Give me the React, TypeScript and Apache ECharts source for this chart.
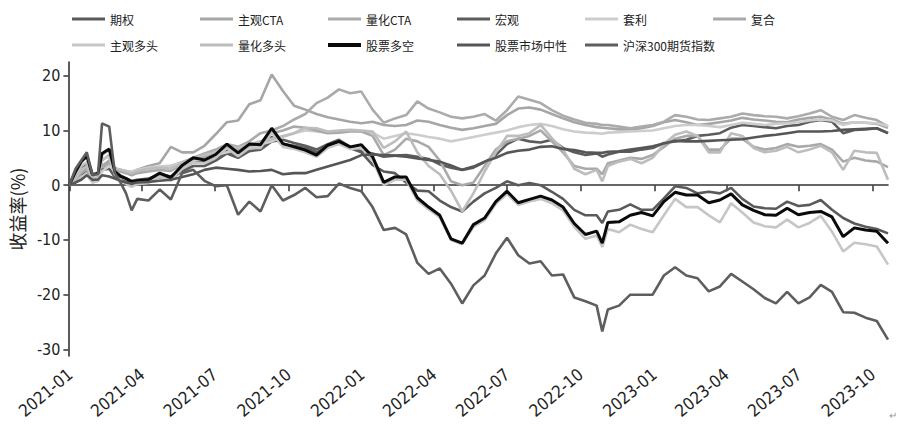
import React, { useEffect, useRef } from "react";
import * as echarts from "echarts";

const dates = [
  "2020-12-31", "2021-01-08", "2021-01-15", "2021-01-22", "2021-01-29", "2021-02-05", "2021-02-10", "2021-02-19", "2021-02-26", "2021-03-05", "2021-03-12", "2021-03-19", "2021-03-26",
  "2021-04-09", "2021-04-23", "2021-05-07", "2021-05-21", "2021-06-04", "2021-06-18", "2021-07-02", "2021-07-16", "2021-07-30", "2021-08-13", "2021-08-27", "2021-09-10", "2021-09-24", "2021-10-08", "2021-10-22", "2021-11-05", "2021-11-19", "2021-12-03", "2021-12-17", "2021-12-31",
  "2022-01-14", "2022-01-28", "2022-02-11", "2022-02-25", "2022-03-11", "2022-03-25", "2022-04-08", "2022-04-22", "2022-05-06", "2022-05-20", "2022-06-03", "2022-06-17", "2022-07-01", "2022-07-15", "2022-07-29", "2022-08-12", "2022-08-26", "2022-09-09", "2022-09-23", "2022-10-07", "2022-10-21",
  "2022-10-28",
  "2022-11-04", "2022-11-18", "2022-12-02", "2022-12-16", "2022-12-30", "2023-01-13", "2023-01-27", "2023-02-10", "2023-02-24", "2023-03-10", "2023-03-24", "2023-04-07", "2023-04-21", "2023-05-05", "2023-05-19", "2023-06-02", "2023-06-16", "2023-06-30", "2023-07-14", "2023-07-28", "2023-08-11", "2023-08-25", "2023-09-08", "2023-09-22", "2023-10-06", "2023-10-20",
];

const xTickDates = ["2021-01-01", "2021-04-01", "2021-07-01", "2021-10-01", "2022-01-01", "2022-04-01", "2022-07-01", "2022-10-01", "2023-01-01", "2023-04-01", "2023-07-01", "2023-10-01"];
const yTicks = [-30, -20, -10, 0, 10, 20];

const qiquan = [
  0, 1.5, 3.0, 4.0, 1.5, 1.6, 3.5, 4.0, 2.5, 1.8, 1.3, 0.8, 1.0,
  1.2, 2.0, 1.6, 3.0, 4.2, 4.2, 5.0, 6.3, 5.4, 6.8, 6.8, 8.8, 7.5, 7.2, 6.8, 6.0, 7.0, 7.6, 6.8, 6.0,
  3.7, 2.5, 2.2, 0.5, -1.0, -1.1, -2.8, -4.0, -4.8, -3.0, -1.5, -0.5, 0.7, 0.0, 0.4, 0.0, -1.2, -2.5, -4.5, -5.5, -5.5,
  -6.9,
  -4.8, -4.5, -3.5, -4.5, -4.5, -2.4, -0.2, -0.5, -1.5, -1.2, -1.5, -0.5, -2.5, -3.9, -4.2, -4.3, -3.0, -3.8, -3.6, -2.7, -4.5, -6.0, -7.0, -7.6, -8.0, -8.8,
];

const zhuguanCTA = [
  0, 0.8, 2.0, 2.8, 0.8, 1.2, 3.5, 4.5, 3.0, 2.8, 2.6, 2.4, 2.8,
  3.5, 4.0, 7.0, 6.0, 6.0, 7.2, 9.3, 11.5, 11.8, 14.8, 15.5, 20.2, 17.2, 14.5, 13.8, 13.0, 12.4, 12.0, 11.6, 11.3,
  11.6, 11.0, 10.8, 11.0, 11.8, 11.6, 11.0, 10.5, 10.1, 10.4, 10.8, 11.2, 12.8, 14.0, 14.2, 13.8, 13.0, 12.2, 11.5, 11.0, 10.6,
  10.5,
  10.4, 10.2, 10.2, 10.4, 10.8, 11.5, 11.9, 11.5, 11.0, 11.2, 11.5, 11.8, 12.3, 12.0, 11.8, 11.6, 11.5, 12.0, 12.3, 12.5, 12.0, 11.2, 11.5, 11.4, 11.2, 10.5,
];

const lianghuaCTA = [
  0, 0.5, 1.5, 2.2, 0.5, 0.8, 3.0, 4.0, 2.8, 2.6, 2.3, 2.0, 2.5,
  3.0, 3.2, 3.5, 4.2, 5.0, 5.8, 6.5, 7.5, 7.0, 8.0, 9.5, 10.0, 10.8, 12.0, 13.0, 15.0, 16.0, 17.5, 16.8, 17.1,
  13.8, 11.4, 12.2, 12.8, 15.3, 14.0, 13.3, 12.5, 12.2, 12.5, 13.0, 11.8, 13.7, 16.2, 15.6, 15.0, 13.7, 12.7, 12.0, 11.4, 11.2,
  11.0,
  11.0, 10.7, 10.4, 10.7, 11.0, 11.6, 12.8, 12.5, 12.0, 11.9, 12.2, 12.5, 13.1, 12.8, 12.6, 12.5, 12.2, 12.6, 13.1, 13.7, 12.5, 11.9, 12.8, 12.3, 11.9, 10.7,
];

const hongguan = [
  0, 1.0, 2.0, 3.0, 1.0, 1.2, 2.8, 3.0, 1.5, 1.0, 0.6, 0.2, 0.5,
  0.8, 1.5, 1.2, 2.5, 3.5, 3.5, 4.5, 5.8, 5.0, 6.2, 6.5, 8.0, 8.3, 7.7, 7.2, 6.5, 7.5, 8.3, 7.0, 6.2,
  5.8, 5.2, 5.4, 5.5, 5.2, 4.8, 3.8, 3.2, 2.8, 3.2, 4.2, 5.5, 7.5, 8.5, 8.0, 7.8, 8.3, 6.8, 6.0, 5.5, 5.8,
  5.2,
  5.6, 6.1, 6.1, 6.5, 6.8, 7.7, 8.0, 8.3, 9.0, 9.2, 9.5, 10.5, 11.0, 10.8, 10.6, 10.4, 10.8, 11.0, 11.6, 11.9, 11.6, 9.5, 10.1, 10.2, 10.4, 9.5,
];

const taoli = [
  0, 0.8, 1.5, 2.0, 0.5, 0.8, 2.5, 3.5, 2.8, 2.8, 2.6, 2.5, 2.8,
  3.2, 3.4, 3.6, 4.0, 4.5, 5.0, 5.5, 6.0, 6.5, 7.0, 7.5, 8.0, 8.8, 9.5, 10.0, 9.8, 9.6, 9.8, 10.0, 9.8,
  9.6, 8.5, 9.0, 9.5, 9.2, 8.8, 8.5, 8.0, 8.4, 8.8, 9.2, 9.6, 10.0, 10.6, 11.0, 11.2, 10.8, 10.2, 9.8, 9.6, 9.5,
  9.4,
  9.6, 9.7, 9.8, 9.9, 10.0, 10.4, 10.8, 11.0, 11.0, 10.8, 10.6, 11.0, 11.4, 11.2, 11.0, 11.2, 11.3, 11.5, 11.8, 12.0, 11.8, 11.0, 11.5, 11.4, 11.3, 10.8,
];

const fuhe = [
  0, 1.0, 2.2, 3.0, 0.8, 1.3, 4.5, 5.5, 3.0, 2.5, 2.2, 1.8, 2.2,
  2.5, 2.8, 2.6, 3.8, 4.8, 5.2, 5.8, 6.8, 6.5, 7.2, 7.8, 9.5, 10.0, 10.7, 10.5, 10.0, 9.5, 9.6, 9.8, 9.8,
  9.0, 5.5, 6.5, 8.5, 8.0, 7.0, 4.5, 0.7, 0.0, 0.5, 3.5, 6.5, 8.0, 8.5, 9.0, 10.0, 8.0, 6.0, 3.5, 3.0, 3.0,
  2.0,
  4.0, 4.5, 5.0, 4.8, 5.5, 7.0, 8.5, 9.0, 9.0, 6.5, 6.5, 8.5, 8.5, 7.0, 6.5, 6.8, 7.5, 7.0, 7.2, 7.5, 6.5, 4.3, 5.0, 4.5, 4.3, 3.3,
];

const zhuguanDuotou = [
  0, 1.8, 3.5, 4.2, 1.2, 1.8, 4.8, 5.2, 2.0, 1.0, 0.2, -0.3, 0.2,
  0.4, 1.6, 0.8, 3.0, 4.2, 4.0, 5.0, 6.8, 5.3, 6.8, 6.8, 9.6, 7.0, 6.6, 6.0, 5.2, 6.8, 7.5, 6.6, 6.8,
  4.6, 0.0, 1.0, 1.0, -2.8, -4.4, -5.9, -10.0, -10.8, -7.6, -6.4, -3.4, -1.6, -3.6, -3.0, -2.5, -3.3, -4.6, -7.6, -9.8, -9.2,
  -11.3,
  -8.0, -8.6, -7.2, -8.0, -8.6, -5.5, -2.5, -4.0, -4.0, -5.5, -6.8, -3.3, -5.0, -6.8, -7.5, -7.7, -6.3, -7.7, -6.9, -5.6, -8.5, -12.1, -10.5, -10.8, -11.2, -14.5,
];

const lianghuaDuotou = [
  0, 1.2, 2.8, 3.5, 1.0, 1.5, 5.5, 6.5, 3.2, 2.8, 2.5, 2.2, 2.6,
  3.0, 3.2, 3.0, 4.0, 5.0, 5.5, 6.0, 7.0, 6.8, 7.5, 8.0, 8.5, 9.0, 9.5, 10.5, 10.4, 9.8, 10.0, 10.1, 10.0,
  9.8, 6.8, 8.0, 9.8, 6.0, 3.5, 2.0, -1.0, -4.8, -1.5, 2.5, 6.0, 9.0, 9.0, 9.5, 11.0, 8.6, 6.5, 3.0, 2.0, 2.8,
  0.7,
  3.5, 4.3, 4.8, 4.0, 5.0, 7.5, 9.2, 9.8, 9.0, 6.0, 6.0, 9.5, 9.0, 6.8, 6.0, 6.3, 7.0, 6.0, 6.5, 7.2, 6.0, 2.8, 6.3, 6.0, 5.9, 1.0,
];

const gupiaoDuokong = [
  0, 2.5, 4.3, 5.3, 1.9, 2.2, 5.8, 6.6, 2.5, 1.6, 1.2, 0.6, 0.8,
  1.0, 2.2, 1.4, 3.6, 5.0, 4.6, 5.6, 7.5, 5.9, 7.5, 7.4, 10.4, 7.6, 7.0, 6.4, 5.5, 7.3, 8.0, 7.0, 7.4,
  5.2, 0.5, 1.5, 1.5, -2.3, -4.0, -5.5, -9.8, -10.6, -7.2, -6.0, -3.0, -1.1, -3.2, -2.6, -2.0, -2.7, -4.0, -7.0, -9.0, -8.4,
  -10.6,
  -6.8, -6.7, -5.5, -5.0, -5.6, -3.0, -1.3, -1.8, -1.8, -3.2, -2.7, -1.6, -3.6, -4.6, -5.4, -5.5, -4.2, -5.4, -5.0, -4.8, -5.8, -9.4, -7.8, -8.2, -8.4, -10.6,
];

const shichangZhongxing = [
  0, 0.5, 1.0, 1.8, 1.0, 1.0, 1.8, 1.6, 1.2, 0.8, 0.5, 0.3, 0.5,
  0.6, 0.8, 1.0, 1.5, 2.0, 2.8, 3.2, 3.0, 2.8, 2.5, 2.6, 2.8, 2.0, 2.2, 2.2, 2.8, 3.4, 4.0, 4.6, 5.5,
  5.6, 5.5, 5.4, 5.2, 4.9, 4.6, 4.3, 3.6, 2.8, 3.4, 4.3, 5.0, 5.9, 6.3, 6.5, 7.0, 7.1, 6.6, 6.4, 6.0, 5.9,
  5.9,
  6.1, 6.2, 6.5, 6.8, 7.1, 7.6, 8.1, 8.0, 8.0, 8.1, 8.2, 8.3, 8.4, 8.7, 9.0, 9.2, 9.5, 9.8, 9.8, 9.8, 9.9, 10.1, 10.2, 10.3, 10.4, 9.5,
];

const hs300 = [
  0, 3.0, 4.5, 6.0, 1.9, 2.0, 11.3, 10.7, 2.2, 0.5, -1.5, -4.6, -2.5,
  -2.8, -0.8, -2.6, 2.2, 2.8, 0.8, -0.2, 0.0, -5.4, -3.0, -4.8, 0.0, -2.8, -1.8, -0.5, -2.2, -2.0, 0.3, -0.5, -1.1,
  -4.0, -8.2, -7.8, -9.0, -14.2, -16.2, -15.2, -18.0, -21.6, -18.3, -16.5, -12.5, -9.6, -12.8, -14.3, -13.9, -16.5, -16.3, -20.5, -21.2, -22.0,
  -26.7,
  -22.7, -22.0, -20.0, -20.0, -20.0, -16.5, -15.0, -16.5, -17.0, -19.4, -18.5, -16.2, -17.6, -19.0, -20.6, -21.6, -19.5, -21.6, -20.5, -18.2, -19.5, -23.2, -23.3, -24.2, -24.8, -28.2,
];

const seriesNames = ["期权", "主观CTA", "量化CTA", "宏观", "套利", "复合", "主观多头", "量化多头", "股票多空", "股票市场中性", "沪深300期货指数"];
const seriesValues = [qiquan, zhuguanCTA, lianghuaCTA, hongguan, taoli, fuhe, zhuguanDuotou, lianghuaDuotou, gupiaoDuokong, shichangZhongxing, hs300];
const seriesColors = ["#5a5a5a", "#a6a6a6", "#ababab", "#5c5c5c", "#cdcdcd", "#a9a9a9", "#c6c6c6", "#bdbdbd", "#0a0a0a", "#565656", "#5e5e5e"];

const toTs = (d: string) => new Date(d + "T00:00:00Z").getTime();

export default function App() {
  const ref = useRef<HTMLDivElement>(null);

  useEffect(() => {
    if (!ref.current) return;
    const chart = echarts.init(ref.current, null, { renderer: "svg" });
    const ts = dates.map(toTs);
    const tickTs = xTickDates.map(toTs);
    const colX = [72, 200, 328, 457, 585, 713];
    const rowY = [13, 39];
    const numFont = '"Liberation Sans Narrow", "DejaVu Sans Condensed", sans-serif';
    const cjkFont = '"Noto Sans CJK SC", sans-serif';

    const legends = seriesNames.map((n, i) => ({
      data: [n],
      left: colX[i % 6],
      top: rowY[Math.floor(i / 6)],
      icon: "rect",
      itemWidth: 33,
      itemHeight: i === 8 ? 4 : 3,
      padding: 0,
      selectedMode: false,
      textStyle: { fontSize: 12, color: "#222", fontFamily: cjkFont },
    }));

    const series = seriesNames.map((n, i) => ({
      name: n,
      type: "line",
      data: ts.map((t, j) => [t, seriesValues[i][j]]),
      showSymbol: false,
      symbol: "none",
      lineStyle: { width: i === 8 ? 3 : 2.6, color: seriesColors[i] },
      itemStyle: { color: seriesColors[i] },
      emphasis: { disabled: true },
      z: 2,
    }));

    chart.setOption({
      animation: false,
      backgroundColor: "#ffffff",
      legend: legends,
      grid: { left: 67, right: 12, top: 62, bottom: 68, containLabel: false },
      xAxis: {
        type: "value",
        min: toTs("2020-12-30"),
        max: toTs("2023-10-20"),
        axisLine: { show: true, lineStyle: { color: "#333", width: 1.6 } },
        axisTick: { show: true, length: 6, lineStyle: { color: "#333", width: 1.5 }, customValues: tickTs },
        axisLabel: {
          customValues: tickTs,
          rotate: 40,
          margin: 16,
          fontSize: 17,
          color: "#222",
          fontFamily: numFont,
          formatter: (v: number) => {
            const d = new Date(v);
            const m = d.getUTCMonth() + 1;
            return d.getUTCFullYear() + "-" + (m < 10 ? "0" + m : "" + m);
          },
        },
        splitLine: { show: false },
      },
      yAxis: {
        type: "value",
        min: -31.2,
        max: 22.5,
        name: "收益率(%)",
        nameLocation: "middle",
        nameGap: 31,
        nameTextStyle: { fontSize: 18, color: "#222", fontFamily: cjkFont },
        axisLine: { show: true, lineStyle: { color: "#333", width: 1.6 } },
        axisTick: { show: true, length: 5, lineStyle: { color: "#333", width: 1.5 }, customValues: yTicks },
        axisLabel: { customValues: yTicks, margin: 8, fontSize: 16, color: "#222", fontFamily: numFont },
        splitLine: { show: false },
      },
      graphic: [
        { type: "text", left: 889, top: 410, style: { text: "↵", fontSize: 10, fill: "#999" } },
      ],
      series,
    });

    return () => chart.dispose();
  }, []);

  return <div ref={ref} style={{ position: "fixed", left: 0, top: 0, width: 900, height: 424, background: "#fff" }} />;
}
